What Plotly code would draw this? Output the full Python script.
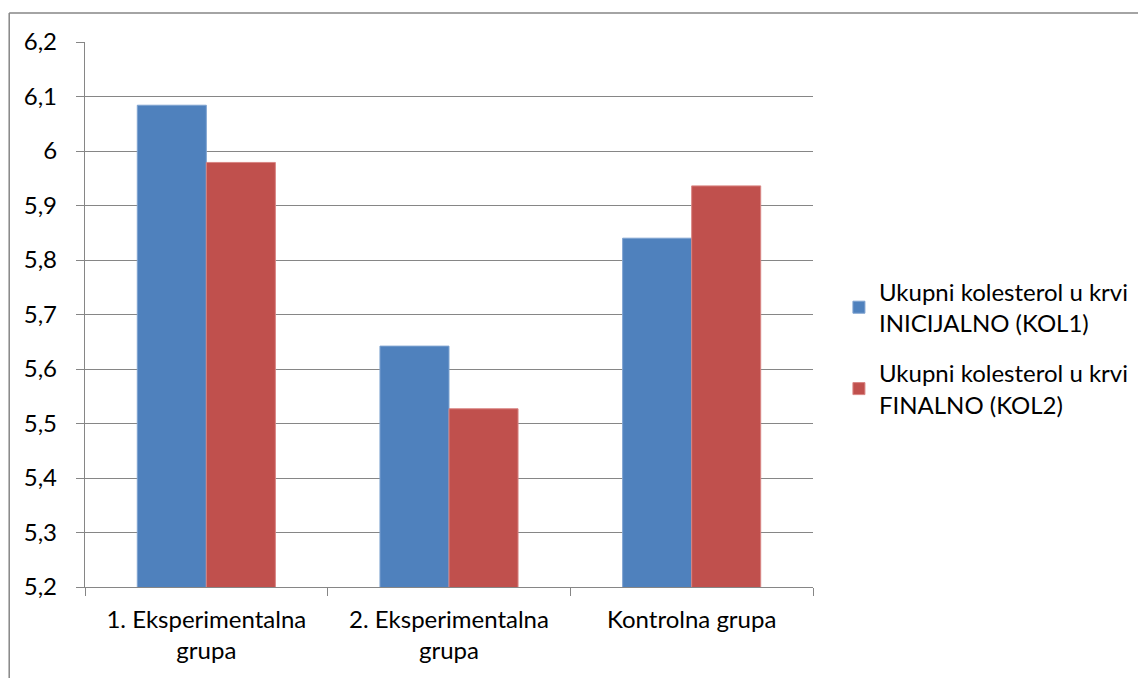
import plotly.graph_objects as go

categories = ["1. Eksperimentalna<br>grupa", "2. Eksperimentalna<br>grupa", "Kontrolna grupa"]
kol1 = [6.084, 5.642, 5.840]
kol2 = [5.979, 5.527, 5.936]
series_names = ["Ukupni kolesterol u krvi<br>INICIJALNO (KOL1)", "Ukupni kolesterol u krvi<br>FINALNO (KOL2)"]
ytick_vals = [5.2, 5.3, 5.4, 5.5, 5.6, 5.7, 5.8, 5.9, 6.0, 6.1, 6.2]
ytick_text = ["5,2", "5,3", "5,4", "5,5", "5,6", "5,7", "5,8", "5,9", "6", "6,1", "6,2"]

OFF = 8  # body margin of the html page
W, H = 1146 - OFF, 678 - OFF
L, R, T, B = 85 - OFF, 331, 42 - OFF, 91
pw, ph = W - L - R, H - T - B

def px_x(xp):  # page x -> paper
    return (xp - OFF - L) / pw

def px_y(yp):  # page y -> paper
    return (H - B - (yp - OFF)) / ph

fig = go.Figure()
fig.add_trace(go.Bar(x=categories, y=kol1, name=series_names[0], legendgroup="a",
                     marker=dict(color="#4F81BD", line=dict(color="#7FA3D0", width=1))))
fig.add_trace(go.Bar(x=categories, y=kol2, name=series_names[1], legendgroup="b",
                     marker=dict(color="#C0504D", line=dict(color="#D98583", width=1))))

font = "Lato, Carlito, Calibri, sans-serif"
fig.update_layout(
    width=W, height=H,
    margin=dict(l=L, r=R, t=T, b=B, pad=0),
    paper_bgcolor="white", plot_bgcolor="white",
    barmode="group", bargap=0.431, bargroupgap=0,
    font=dict(family=font, size=24, color="#000000"),
    showlegend=True,
    legend=dict(x=px_x(841), xanchor="left", y=px_y(348), yanchor="middle",
                font=dict(family=font, size=24), tracegroupgap=16,
                bgcolor="rgba(0,0,0,0)"),
    xaxis=dict(showgrid=False, showline=True, linecolor="#868686", linewidth=1.3,
               ticks="outside", tickson="boundaries", ticklen=8, tickcolor="#868686",
               tickwidth=1.3, tickfont=dict(family=font, size=24), ticklabelstandoff=11),
    yaxis=dict(range=[5.2, 6.2], tickvals=ytick_vals, ticktext=ytick_text,
               showgrid=True, gridcolor="#868686", gridwidth=1.3,
               showline=True, linecolor="#868686", linewidth=1.3,
               ticks="outside", ticklen=8, tickcolor="#868686", tickwidth=1.3,
               tickfont=dict(family=font, size=24), zeroline=False,
               ticklabelstandoff=14),
    shapes=[
        dict(type="line", xref="paper", yref="paper",
             x0=px_x(9), x1=px_x(9), y0=-1, y1=px_y(13),
             line=dict(color="#868686", width=1.5)),
        dict(type="line", xref="paper", yref="paper",
             x0=px_x(9), x1=3, y0=px_y(13), y1=px_y(13),
             line=dict(color="#868686", width=1.5)),
    ],
)

fig.write_html("out.html")
